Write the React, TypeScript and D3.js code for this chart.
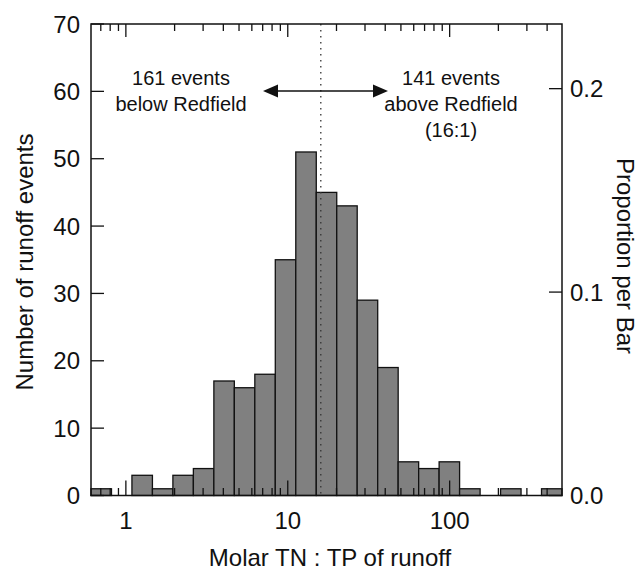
import React from "react";
import * as d3 from "d3";

// Histogram bin edges (molar TN:TP, log-spaced) and counts per bin
const binEdges = [
  0.609, 0.815, 1.09, 1.459, 1.952, 2.612, 3.496, 4.677, 6.26, 8.375, 11.21, 15.0,
  20.07, 26.85, 35.94, 48.08, 64.35, 86.1, 115.2, 154.2, 206.3, 276.1, 369.4, 494.3,
];
const counts = [1, 0, 3, 1, 3, 4, 17, 16, 18, 35, 51, 45, 43, 29, 19, 5, 4, 5, 1, 0, 1, 0, 1];
const totalEvents = 302;
const redfield = 16;
const yTicks = [0, 10, 20, 30, 40, 50, 60, 70];
const y2Ticks = [0, 0.1, 0.2];
const xMajorTicks = [1, 10, 100];
const belowLabel = ["161 events", "below Redfield"];
const aboveLabel = ["141 events", "above Redfield", "(16:1)"];

const FONT = "Arial, 'Liberation Sans', sans-serif";

export default function App() {
  const W = 639;
  const H = 575;
  const left = 91;
  const right = 562;
  const top = 24;
  const bottom = 495.5;

  const x = d3.scaleLog().domain([binEdges[0], binEdges[binEdges.length - 1]]).range([left, right]);
  const y = d3.scaleLinear().domain([0, 70]).range([bottom, top]);
  const y2 = d3.scaleLinear().domain([0, 70 / totalEvents]).range([bottom, top]);

  const allXTicks = x.ticks();
  const isMajor = (v: number) => xMajorTicks.some((m) => Math.abs(m - v) < 1e-9);

  const arrowY = 91;
  const arrowL = 263;
  const arrowR = 388;
  const ah = 15;
  const aw = 6.5;

  return (
    <svg
      width={W}
      height={H}
      style={{ position: "absolute", left: 0, top: 0, display: "block", background: "#fff" }}
      fontFamily={FONT}
    >
      <rect x={0} y={0} width={W} height={H} fill="#fff" />
      {/* bars */}
      {counts.map((c, i) =>
        c > 0 ? (
          <rect
            key={i}
            x={x(binEdges[i])}
            y={y(c)}
            width={x(binEdges[i + 1]) - x(binEdges[i])}
            height={y(0) - y(c)}
            fill="#808080"
            stroke="#111"
            strokeWidth={1.3}
          />
        ) : null
      )}
      {/* redfield dotted line */}
      <line
        x1={x(redfield)}
        x2={x(redfield)}
        y1={top}
        y2={bottom}
        stroke="#333"
        strokeWidth={1.3}
        strokeDasharray="1.5,4.5"
      />
      {/* frame */}
      <rect x={left} y={top} width={right - left} height={bottom - top} fill="none" stroke="#111" strokeWidth={1.5} />
      {/* x ticks bottom & top */}
      {allXTicks.map((t, i) => {
        const len = isMajor(t) ? 15 : 7.5;
        const xx = x(t);
        return (
          <g key={i}>
            <line x1={xx} x2={xx} y1={bottom} y2={bottom - len} stroke="#111" strokeWidth={1.3} />
            <line x1={xx} x2={xx} y1={top} y2={top + (isMajor(t) ? 13 : 7)} stroke="#111" strokeWidth={1.3} />
          </g>
        );
      })}
      {xMajorTicks.map((t) => (
        <text key={t} x={x(t)} y={529} textAnchor="middle" fontSize={24} fill="#111">
          {t}
        </text>
      ))}
      {/* left y ticks */}
      {yTicks.map((t) => (
        <g key={t}>
          <line x1={left} x2={left + 13} y1={y(t)} y2={y(t)} stroke="#111" strokeWidth={1.3} />
          <text x={80} y={y(t) + 8.5} textAnchor="end" fontSize={24} fill="#111">
            {t}
          </text>
        </g>
      ))}
      {/* right y ticks */}
      {y2Ticks.map((t) => (
        <g key={t}>
          <line x1={right - 13} x2={right} y1={y2(t)} y2={y2(t)} stroke="#111" strokeWidth={1.3} />
          <text x={570} y={y2(t) + 8.5} textAnchor="start" fontSize={24} fill="#111">
            {d3.format(".1f")(t)}
          </text>
        </g>
      ))}
      {/* axis titles */}
      <text x={330} y={566} textAnchor="middle" fontSize={24} fill="#111">
        Molar TN : TP of runoff
      </text>
      <text
        transform={`translate(33,${262}) rotate(-90)`}
        textAnchor="middle"
        fontSize={24}
        fill="#111"
      >
        Number of runoff events
      </text>
      <text
        transform={`translate(617,${256}) rotate(90)`}
        textAnchor="middle"
        fontSize={24}
        fill="#111"
      >
        Proportion per Bar
      </text>
      {/* annotations */}
      {belowLabel.map((s, i) => (
        <text key={s} x={181} y={85 + i * 26} textAnchor="middle" fontSize={20} fill="#111">
          {s}
        </text>
      ))}
      {aboveLabel.map((s, i) => (
        <text key={s} x={451} y={85 + i * 26} textAnchor="middle" fontSize={20} fill="#111">
          {s}
        </text>
      ))}
      {/* double arrow */}
      <line x1={arrowL + ah - 2} x2={arrowR - ah + 2} y1={arrowY} y2={arrowY} stroke="#111" strokeWidth={1.5} />
      <path
        d={`M${arrowL},${arrowY} L${arrowL + ah},${arrowY - aw} L${arrowL + ah},${arrowY + aw} Z`}
        fill="#111"
      />
      <path
        d={`M${arrowR},${arrowY} L${arrowR - ah},${arrowY - aw} L${arrowR - ah},${arrowY + aw} Z`}
        fill="#111"
      />
    </svg>
  );
}
